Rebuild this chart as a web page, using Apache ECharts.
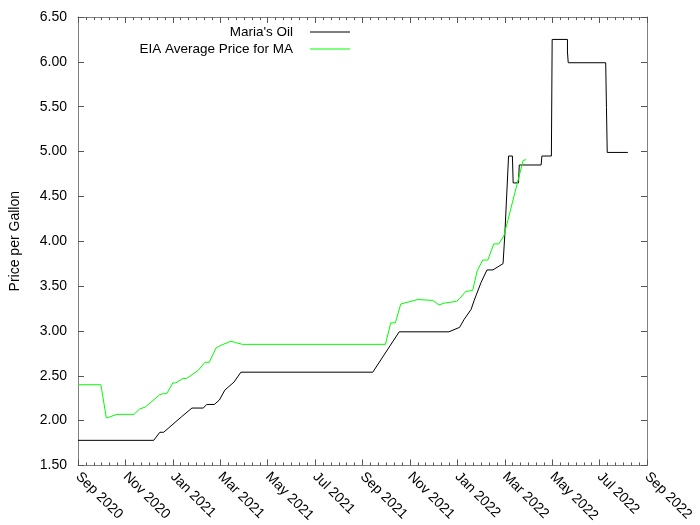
<!DOCTYPE html>
<html>
<head>
<meta charset="utf-8">
<script src="https://cdn.jsdelivr.net/npm/echarts@6/dist/echarts.min.js"></script>
<style>html,body{margin:0;padding:0;background:#fff}#c{width:700px;height:525px}</style>
</head>
<body>
<div id="c"></div>
<script>
const tickLabels = ['Sep 2020','Nov 2020','Jan 2021','Mar 2021','May 2021','Jul 2021','Sep 2021','Nov 2021','Jan 2022','Mar 2022','May 2022','Jul 2022','Sep 2022'];
const yTicks = [1.5, 6.5, 0.5];

const mariaDates = ['2020-09-01','2020-12-07','2020-12-15','2020-12-20','2021-01-12','2021-01-26','2021-02-09','2021-02-13','2021-02-22','2021-02-28','2021-03-07','2021-03-19','2021-03-28','2021-09-14','2021-10-18','2021-12-21','2022-01-04','2022-01-10','2022-01-19','2022-01-23','2022-02-01','2022-02-08','2022-02-15','2022-02-27','2022-03-01','2022-03-06','2022-03-11','2022-03-12','2022-03-19','2022-03-20','2022-04-17','2022-04-18','2022-04-30','2022-05-01','2022-05-21','2022-05-21','2022-05-22','2022-07-09','2022-07-10','2022-07-11','2022-08-07'];
const mariaPrices = [1.78,1.78,1.87,1.87,2.04,2.14,2.14,2.18,2.18,2.23,2.34,2.43,2.54,2.54,2.99,2.99,3.04,3.13,3.24,3.34,3.54,3.68,3.68,3.75,4.06,4.95,4.95,4.65,4.65,4.85,4.85,4.95,4.95,6.25,6.25,6.11,5.99,5.99,5.49,4.99,4.99];

const eiaDates = ['2020-09-01','2020-09-30','2020-10-07','2020-10-11','2020-10-21','2020-11-12','2020-11-19','2020-11-26','2020-12-15','2020-12-19','2020-12-24','2021-01-01','2021-01-05','2021-01-14','2021-01-19','2021-02-03','2021-02-05','2021-02-11','2021-02-16','2021-02-24','2021-03-02','2021-03-15','2021-03-21','2021-03-30','2021-09-30','2021-10-07','2021-10-13','2021-10-20','2021-11-11','2021-11-30','2021-12-08','2021-12-15','2021-12-31','2022-01-04','2022-01-12','2022-01-21','2022-01-27','2022-02-03','2022-02-09','2022-02-16','2022-02-22','2022-02-28','2022-03-25','2022-03-29'];
const eiaPrices = [2.40,2.40,2.03,2.04,2.07,2.07,2.13,2.15,2.29,2.30,2.30,2.42,2.42,2.47,2.47,2.56,2.58,2.65,2.65,2.81,2.84,2.885,2.87,2.85,2.85,3.09,3.09,3.30,3.35,3.34,3.29,3.31,3.33,3.36,3.44,3.45,3.67,3.79,3.79,3.97,3.97,4.06,4.90,4.91];

function toMonths(s){
  const p = s.split('-').map(Number);
  const dim = new Date(p[0], p[1], 0).getDate();
  return (p[0]-2020)*12 + (p[1]-9) + (p[2]-1)/dim;
}
function pairs(ds, vs){ return ds.map((d,i)=>[toMonths(d), vs[i]]); }

const FONT = 'Liberation Sans';
const axisLineStyle = {color:'#808080', width:1};
const baseX = {
  type:'value', min:0, max:24, interval:2,
  axisLine:{show:true, onZero:false, lineStyle:axisLineStyle},
  axisTick:{show:true, inside:true, length:6, lineStyle:{color:'#555'}},
  minorTick:{show:true, splitNumber:6, length:3, lineStyle:{color:'#555'}},
  splitLine:{show:false}, minorSplitLine:{show:false}
};
const baseY = {
  type:'value', min:yTicks[0], max:yTicks[1], interval:yTicks[2],
  axisLine:{show:true, onZero:false, lineStyle:axisLineStyle},
  axisTick:{show:true, inside:true, length:6, lineStyle:{color:'#555'}},
  splitLine:{show:false}
};
const legendText = {fontFamily:FONT, fontSize:13.5, color:'#000', padding:[0,12,0,0]};

const chart = echarts.init(document.getElementById('c'));
chart.setOption({
  animation:false,
  backgroundColor:'#fff',
  textStyle:{fontFamily:FONT},
  grid:{left:74, right:53, top:17, bottom:57, containLabel:false},
  legend:[
    {data:['Maria\'s Oil'], orient:'vertical', right:345, top:20, align:'right',
     icon:'rect', itemWidth:40, itemHeight:1, textStyle:legendText},
    {data:['EIA Average Price for MA'], orient:'vertical', right:345, top:37, align:'right',
     icon:'rect', itemWidth:40, itemHeight:1, textStyle:legendText}
  ],
  xAxis:[
    Object.assign({}, baseX, {position:'bottom',
      axisLabel:{show:true, rotate:-45, margin:9, fontFamily:FONT, fontSize:14, color:'#000',
        formatter:function(v){ return tickLabels[Math.round(v/2)] || ''; }}}),
    Object.assign({}, baseX, {position:'top', axisLabel:{show:false}})
  ],
  yAxis:[
    Object.assign({}, baseY, {position:'left',
      name:'Price per Gallon', nameLocation:'middle', nameGap:56, nameRotate:90,
      nameTextStyle:{fontFamily:FONT, fontSize:14, color:'#000'},
      axisLabel:{show:true, margin:11, fontFamily:FONT, fontSize:14, color:'#000',
        formatter:function(v){ return v.toFixed(2); }}}),
    Object.assign({}, baseY, {position:'right', axisLabel:{show:false}})
  ],
  series:[
    {name:'Maria\'s Oil', type:'line', data:pairs(mariaDates, mariaPrices), showSymbol:false,
     symbol:'none', lineStyle:{color:'#000', width:1}, itemStyle:{color:'#000'}, xAxisIndex:0, yAxisIndex:0},
    {name:'EIA Average Price for MA', type:'line', data:pairs(eiaDates, eiaPrices), showSymbol:false,
     symbol:'none', lineStyle:{color:'#00ff00', width:1}, itemStyle:{color:'#00ff00'}, xAxisIndex:0, yAxisIndex:0}
  ]
});
</script>
</body>
</html>
